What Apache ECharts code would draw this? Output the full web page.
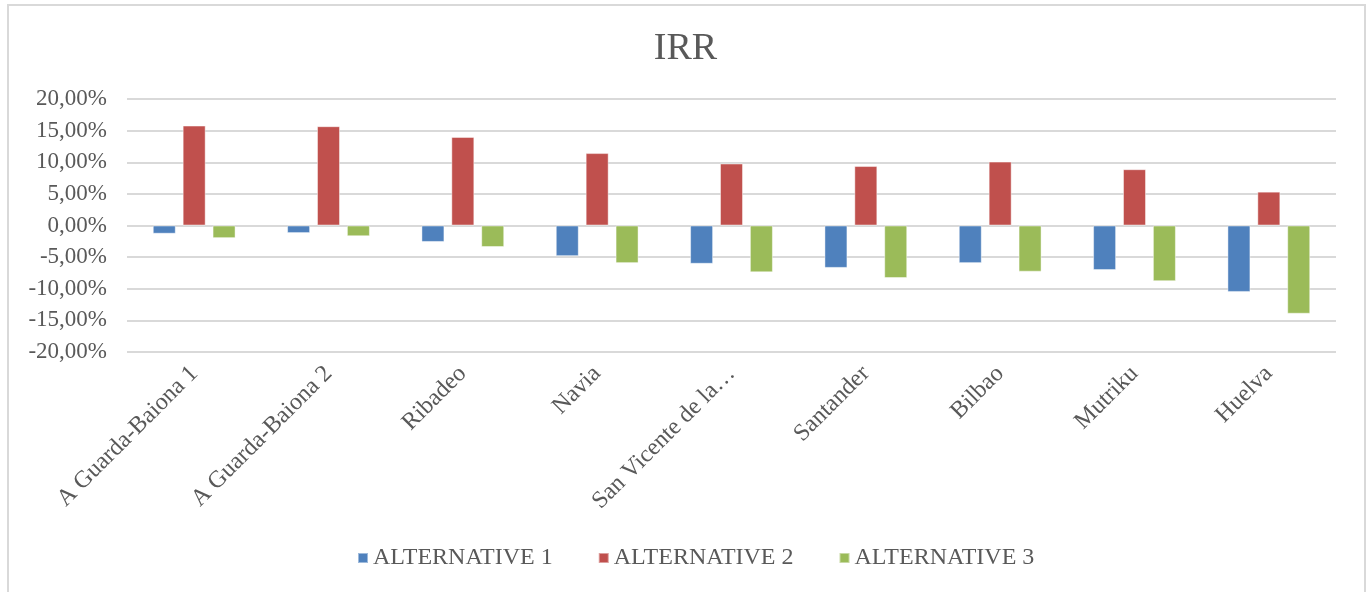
<!DOCTYPE html>
<html>
<head>
<meta charset="utf-8">
<title>IRR</title>
<script src="https://cdn.jsdelivr.net/npm/echarts@6/dist/echarts.min.js"></script>
<style>
  html, body { margin: 0; padding: 0; background: #fff; }
  #chart { width: 1371px; height: 592px; }
</style>
</head>
<body>
<div id="chart"></div>
<script>
const categories = [
  'A Guarda-Baiona 1', 'A Guarda-Baiona 2', 'Ribadeo', 'Navia',
  'San Vicente de la…', 'Santander', 'Bilbao', 'Mutriku', 'Huelva'
];
const alternative1 = [-1.3, -1.2, -2.6, -4.85, -6.05, -6.7, -5.95, -7.05, -10.5];
const alternative2 = [15.8, 15.7, 14.0, 11.45, 9.8, 9.4, 10.1, 8.9, 5.35];
const alternative3 = [-2.0, -1.7, -3.4, -5.95, -7.4, -8.3, -7.3, -8.8, -13.95];
const seriesNames = ['ALTERNATIVE 1', 'ALTERNATIVE 2', 'ALTERNATIVE 3'];
const colors = ['#4F81BD', '#C0504D', '#9BBB59'];

const textColor = '#595959';
const font = '"Liberation Serif", "Times New Roman", serif';

const chart = echarts.init(document.getElementById('chart'));

const makeSeries = (name, data, color) => ({
  name: name,
  type: 'bar',
  data: data,
  barWidth: 23,
  barGap: '30%',
  itemStyle: {
    color: color,
    borderColor: 'rgba(255,255,255,0.45)',
    borderWidth: 1
  }
});

const option = {
  animation: false,
  color: colors,
  title: {
    text: 'IRR',
    left: 'center',
    top: 25,
    textStyle: {
      fontFamily: font,
      fontSize: 38,
      fontWeight: 'normal',
      color: textColor
    }
  },
  legend: {
    top: 541,
    left: 352,
    itemWidth: 10,
    itemHeight: 10,
    itemGap: 45,
    icon: 'rect',
    textStyle: {
      fontFamily: font,
      fontSize: 24,
      color: textColor
    },
    data: seriesNames
  },
  grid: {
    left: 127,
    right: 35,
    top: 99,
    bottom: 240,
    containLabel: false
  },
  xAxis: {
    type: 'category',
    data: categories,
    axisLine: { show: false },
    axisTick: { show: false },
    axisLabel: {
      rotate: 45,
      interval: 0,
      margin: 18,
      fontFamily: font,
      fontSize: 24,
      color: textColor
    }
  },
  yAxis: {
    type: 'value',
    min: -20,
    max: 20,
    interval: 5,
    axisLine: { show: false },
    axisTick: { show: false },
    splitLine: { lineStyle: { color: '#d9d9d9', width: 2 } },
    axisLabel: {
      margin: 20,
      fontFamily: font,
      fontSize: 23,
      color: textColor,
      formatter: (v) => v.toFixed(2).replace('.', ',') + '%'
    }
  },
  graphic: [{
    type: 'rect',
    shape: { x: 8, y: 5, width: 1357, height: 620 },
    style: { fill: 'none', stroke: '#d9d9d9', lineWidth: 2 },
    silent: true
  }],
  series: [
    makeSeries(seriesNames[0], alternative1, colors[0]),
    makeSeries(seriesNames[1], alternative2, colors[1]),
    makeSeries(seriesNames[2], alternative3, colors[2])
  ]
};

chart.setOption(option);
</script>
</body>
</html>
